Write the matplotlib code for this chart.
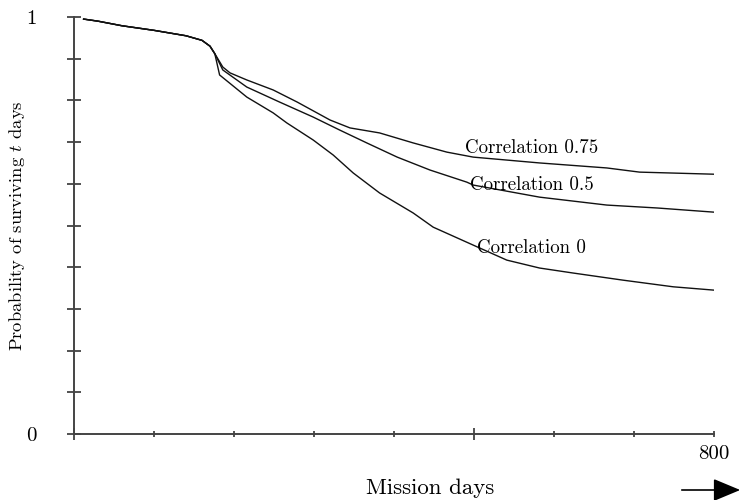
import matplotlib
matplotlib.use("Agg")
import matplotlib.pyplot as plt

plt.rcParams['font.family'] = ['cmr10', 'DejaVu Serif']
plt.rcParams['mathtext.fontset'] = 'cm'
plt.rcParams['axes.formatter.use_mathtext'] = True

# shared start of all three curves
common_days = [12, 30, 60, 100, 140, 160, 170, 176]
common_vals = [0.995, 0.990, 0.979, 0.968, 0.955, 0.944, 0.930, 0.912]

days_075 = [186, 195, 216, 249, 279, 320, 345, 382, 424, 466, 499, 582, 666, 707, 800]
vals_075 = [0.880, 0.866, 0.849, 0.825, 0.796, 0.753, 0.734, 0.722, 0.698, 0.676, 0.664, 0.650, 0.638, 0.628, 0.623]

days_05 = [186, 216, 257, 299, 332, 366, 404, 445, 491, 499, 582, 666, 729, 800]
vals_05 = [0.873, 0.832, 0.796, 0.760, 0.729, 0.698, 0.664, 0.633, 0.604, 0.597, 0.568, 0.549, 0.542, 0.532]

days_0 = [182, 216, 249, 266, 299, 324, 349, 382, 424, 449, 499, 541, 582, 624, 686, 749, 800]
vals_0 = [0.861, 0.808, 0.770, 0.746, 0.705, 0.669, 0.626, 0.578, 0.530, 0.496, 0.453, 0.417, 0.398, 0.386, 0.369, 0.353, 0.345]

labels = ["Correlation 0.75", "Correlation 0.5", "Correlation 0"]
label_pos = [(489, 0.686), (495, 0.597), (504, 0.446)]

fig = plt.figure(figsize=(7.43, 5.0), dpi=100)
ax = fig.add_axes([74/743, 1 - 434/500, 640/743, 417/500])

for d, v in [(days_075, vals_075), (days_05, vals_05), (days_0, vals_0)]:
    ax.plot(common_days + d, common_vals + v, color='#111111', lw=1.0)

for txt, (x, y) in zip(labels, label_pos):
    ax.text(x, y, txt, fontsize=13.6, ha='left', va='center')

ax.set_xlim(0, 800)
ax.set_ylim(0, 1)
for s in ['top', 'right']:
    ax.spines[s].set_visible(False)
for s in ['left', 'bottom']:
    ax.spines[s].set_color('#444444')
    ax.spines[s].set_linewidth(1.4)

ax.set_yticks([i / 10 for i in range(11)])
ax.set_yticklabels(['0'] + [''] * 9 + ['1'], fontsize=15)
ax.tick_params(axis='y', direction='inout', length=10, width=1.2, color='#333333', pad=22)

ax.set_xticks([0, 500])
ax.set_xticklabels(['', ''])
ax.set_xticks([100, 200, 300, 400, 600, 700, 800], minor=True)
ax.set_xticklabels([''] * 6 + ['800'], minor=True, fontsize=15)
ax.tick_params(axis='x', which='major', direction='inout', length=8, width=1.2, color='#333333')
ax.tick_params(axis='x', which='minor', direction='inout', length=4.5, width=1.2, color='#333333', pad=6)

fig.text(17/743, 1 - 226/500, "Probability of surviving $t$ days", fontsize=13.4,
         rotation=90, ha='center', va='center')
fig.text(430/743, 1 - 488/500, "Mission days", fontsize=16.5, ha='center', va='center')

ax.annotate('', xy=(743, 10), xytext=(679, 10), xycoords='figure pixels',
            textcoords='figure pixels',
            arrowprops=dict(arrowstyle='-|>,head_length=1.2,head_width=0.5',
                            mutation_scale=14, color='black', lw=1.2))

fig.savefig("out.png", dpi=100)
